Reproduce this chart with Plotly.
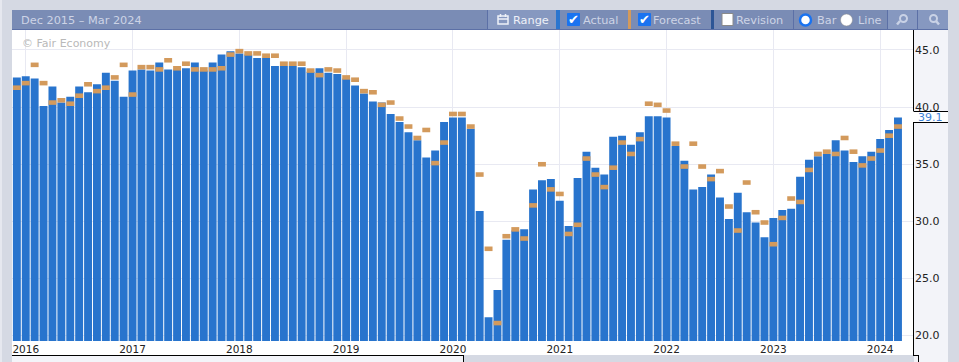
import pandas as pd
import plotly.graph_objects as go

months = [str(p) for p in pd.period_range("2015-12", "2024-03", freq="M")]
actual = [42.6,42.7,42.5,40.1,41.8,40.4,40.9,41.8,41.3,42.0,43.0,42.3,40.9,43.2,43.3,43.2,43.9,43.3,43.3,43.4,
          43.9,43.2,43.9,44.6,44.9,44.7,44.6,44.3,44.3,43.6,43.6,43.6,43.5,43.1,43.4,43.0,42.9,42.5,41.9,41.2,
          40.5,40.4,39.4,38.7,37.8,37.1,35.6,36.2,38.7,39.1,39.1,38.1,30.9,21.6,24.0,28.4,29.2,29.3,32.8,33.6,
          33.7,31.8,29.6,33.8,36.1,34.7,34.1,37.4,37.5,36.7,37.8,39.2,39.2,39.1,36.6,35.3,32.8,33.0,34.1,32.1,
          30.2,32.5,30.8,29.9,28.6,30.3,31.0,31.1,33.9,35.4,35.7,35.9,37.1,36.2,35.2,35.7,36.1,37.2,38.0,39.1]
forecast = [41.7,42.1,43.7,42.1,40.4,40.6,40.3,41.0,42.0,41.4,41.7,42.6,43.7,41.1,43.5,43.5,43.3,44.1,43.4,43.8,
            43.3,43.3,43.3,43.4,44.6,44.9,44.7,44.7,44.5,44.5,43.8,43.8,43.8,43.2,42.8,43.3,43.2,42.6,42.4,41.4,
            41.3,40.2,40.4,39.0,38.3,37.3,38.0,35.1,36.9,39.4,39.4,38.3,34.1,27.6,21.1,28.7,29.3,28.5,31.4,35.0,
            32.8,32.4,28.9,29.7,35.5,34.1,33.0,34.7,36.9,35.9,37.2,40.3,40.2,39.7,36.8,34.8,36.8,34.8,33.7,34.4,
            31.3,29.2,33.4,30.8,29.9,28.0,30.3,32.0,31.7,34.5,35.9,36.1,35.9,37.3,36.1,34.9,35.5,36.2,37.5,38.3]
year_ticks = ["2016-01","2017-01","2018-01","2019-01","2020-01","2021-01","2022-01","2023-01","2024-01"]
year_labels = ["2016","2017","2018","2019","2020","2021","2022","2023","2024"]
y_ticks = [20, 25, 30, 35, 40, 45]
y_labels = ["20.0","25.0","30.0","35.0","40.0","45.0"]
latest_label = "39.1"
FORECAST_THICKNESS = 0.4

W, H = 959, 362
L, R, T, B = 12, 914, 30, 341
def px(x): return (x - L) / (R - L)
def py(y): return (B - y) / (B - T)

GREY, HEAD, HEAD2, BLUE, ORANGE = "#d5d9e3", "#7a8cb5", "#8698c0", "#2874cd", "#d39a5c"
PANEL, TXT, LIGHT = "#f3f4f9", "#cdd4e6", "#eef1f8"
shapes, annos = [], []
def rect(x0, y0, x1, y1, fill, line=None, layer="below", lw=1):
    shapes.append(dict(type="rect", xref="paper", yref="paper", x0=px(x0), x1=px(x1), y0=py(y0), y1=py(y1),
                       fillcolor=fill, line=dict(color=line or fill, width=lw if line else 0), layer=layer))
def seg(x0, y0, x1, y1, color="#000000", w=1):
    shapes.append(dict(type="line", xref="paper", yref="paper", x0=px(x0), x1=px(x1), y0=py(y0), y1=py(y1),
                       line=dict(color=color, width=w), layer="above"))
def circ(cx, cy, r, fill, line=None, lw=1):
    shapes.append(dict(type="circle", xref="paper", yref="paper", x0=px(cx-r), x1=px(cx+r), y0=py(cy+r), y1=py(cy-r),
                       fillcolor=fill, line=dict(color=line or fill, width=lw), layer="above"))
def label(x, y, text, color=TXT, size=11.3, anchor="left"):
    annos.append(dict(xref="paper", yref="paper", x=px(x - 1), y=py(y), text=text, showarrow=False, xanchor=anchor,
                      yanchor="middle", xshift=0, borderpad=0, font=dict(family="DejaVu Sans", size=size, color=color)))

# surrounding panels
rect(12, 341, 914, 355, "#ffffff")
rect(914, 30, 948, 355, PANEL)
rect(12, 355, 463, 362, PANEL)
rect(914, 355, 948, 362, PANEL)
rect(0, 0, 2, 362, "#e6e8ef")
seg(12, 355.5, 463, 355.5); seg(463.5, 355, 463.5, 362)
seg(913.5, 30, 913.5, 111); seg(913.5, 122, 913.5, 355); seg(913, 355.5, 918.5, 355.5); seg(918.5, 355, 918.5, 362)
seg(913.5, 111.5, 948, 111.5); seg(913.5, 122.5, 948, 122.5)
rect(914, 112, 948, 122, "#ffffff", layer="above")
label(918, 117.5, latest_label, "#3c82d8", 11)

# toolbar
rect(12, 10, 948, 30, HEAD, layer="above")
rect(487, 10, 556, 29, HEAD2, layer="above")
rect(887, 10, 948, 29, HEAD2, layer="above")
seg(12, 29.5, 948, 29.5, "#5c70a6", 1)
seg(487.5, 10, 487.5, 29, "#5c70a6"); seg(793.5, 10, 793.5, 29, "#5c70a6")
seg(887.5, 10, 887.5, 29, "#5c70a6"); seg(917.5, 10, 917.5, 29, "#5c70a6")
rect(556, 10, 560, 29, "#2a75cf", layer="above")
rect(628, 10, 631, 29, ORANGE, layer="above")
rect(711, 10, 714, 29, "#2d5596", layer="above")
label(21, 20, "Dec 2015 – Mar 2024", TXT)
rect(498, 16, 508, 24, "rgba(0,0,0,0)", LIGHT, "above", 1.5)
seg(498, 19, 508, 19, LIGHT, 1.5); seg(500.5, 14, 500.5, 17, LIGHT, 1.5); seg(505.5, 14, 505.5, 17, LIGHT, 1.5)
label(512.5, 20, "Range", LIGHT)
rect(567.5, 13.5, 579.5, 25.5, "#1a73f0", "#1a73f0", "above", 1)
label(574.5, 19.5, "✔", "#ffffff", 13, "center")
label(582.5, 20, "Actual", TXT)
rect(638.5, 13.5, 650.5, 25.5, "#1a73f0", "#1a73f0", "above", 1)
label(645.5, 19.5, "✔", "#ffffff", 13, "center")
label(653, 20, "Forecast", TXT)
rect(722, 13.5, 733, 25.5, "#ffffff", "#8a8a8a", "above", 1)
label(736, 20, "Revision", TXT)
circ(805.5, 20, 5.5, "#ffffff", "#1a73f0", 2.5)
label(817, 20, "Bar", TXT)
circ(846.5, 20, 6, "#ffffff", "#8a8a8a", 0.5)
label(858, 20, "Line", TXT)
for cx in (903, 933):
    circ(cx + 0.5, 18.5, 3.5, "rgba(0,0,0,0)", "#c9d2e6", 2)
    seg(cx + (-3 if cx == 903 else 3), 21, cx + (-6 if cx == 903 else 6), 24.5, "#c9d2e6", 2.5)

label(22, 43, "© Fair Economy", "#b9b9b9", 11)

fig = go.Figure()
fig.add_bar(x=months, y=actual, marker=dict(color=BLUE, line=dict(width=0)), width=0.89, name="Actual")
fig.add_bar(x=months, y=[FORECAST_THICKNESS] * len(forecast), base=[f - FORECAST_THICKNESS / 2 for f in forecast],
            marker=dict(color=ORANGE, line=dict(width=0)), width=0.89, name="Forecast")
fig.update_layout(
    width=W, height=H, autosize=False, showlegend=False, barmode="overlay",
    margin=dict(l=L, r=W - R, t=T, b=H - B, pad=0, autoexpand=False),
    paper_bgcolor=GREY, plot_bgcolor="#ffffff",
    font=dict(family="DejaVu Sans", color="#222222"),
    shapes=shapes, annotations=annos,
    xaxis=dict(type="category", categoryorder="array", categoryarray=months, range=[-0.545, 100.8],
               tickmode="array", tickvals=year_ticks, ticktext=year_labels, showgrid=True, gridcolor="#e8e9f2",
               gridwidth=1, ticks="", showline=False, zeroline=False, tickfont=dict(size=10.5), tickangle=0,
               automargin=False),
    yaxis=dict(range=[19.53, 46.75], side="right", tickmode="array", tickvals=y_ticks, ticktext=y_labels,
               showgrid=True, gridcolor="#e8e9f2", gridwidth=1, ticks="", showline=False, zeroline=False,
               tickfont=dict(size=11), automargin=False),
)
fig.write_html("out.html", config=dict(displayModeBar=False),
               post_script="document.documentElement.style.overflow='hidden';document.body.style.margin='0';document.body.style.overflow='hidden';")
